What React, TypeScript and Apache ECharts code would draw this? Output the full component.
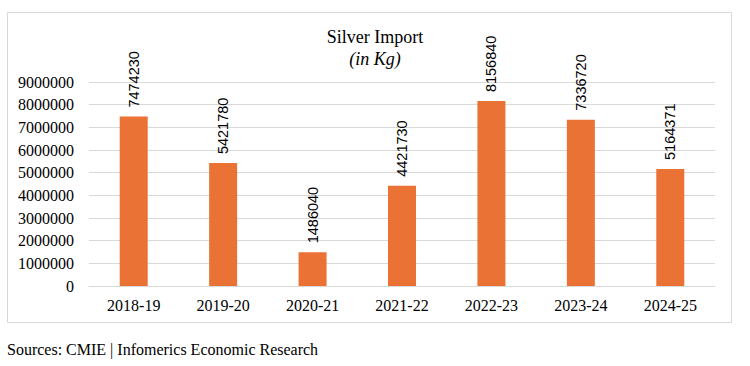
import React, { useEffect, useRef } from "react";
import * as echarts from "echarts";

const categories = ["2018-19", "2019-20", "2020-21", "2021-22", "2022-23", "2023-24", "2024-25"];
const imports = [7474230, 5421780, 1486040, 4421730, 8156840, 7336720, 5164371];
const titleText = "Silver Import";
const subtitleText = "(in Kg)";
const sourceText = "Sources: CMIE | Infomerics Economic Research";

export default function App() {
  const ref = useRef<HTMLDivElement>(null);
  useEffect(() => {
    if (!ref.current) return;
    const chart = echarts.init(ref.current, null, { renderer: "svg" });
    const serif = "'Liberation Serif', 'Times New Roman', serif";
    chart.setOption({
      animation: false,
      backgroundColor: "#ffffff",
      title: {
        text: titleText,
        subtext: subtitleText,
        left: 370,
        textAlign: "center",
        top: 23,
        itemGap: 4,
        textStyle: { fontFamily: serif, fontSize: 18, fontWeight: "normal", color: "#000" },
        subtextStyle: { fontFamily: serif, fontSize: 18, fontStyle: "italic", color: "#000" },
      },
      grid: { left: 89, right: 35, top: 82, bottom: 80 },
      xAxis: {
        type: "category",
        data: categories,
        axisLine: { show: true, lineStyle: { color: "#d9d9d9" } },
        axisTick: { show: false },
        axisLabel: { fontFamily: serif, fontSize: 16, color: "#000", margin: 11 },
      },
      yAxis: {
        type: "value",
        min: 0,
        max: 9000000,
        interval: 1000000,
        axisLine: { show: false },
        axisTick: { show: false },
        splitLine: { lineStyle: { color: "#d9d9d9", width: 1 } },
        axisLabel: {
          fontFamily: serif,
          fontSize: 16,
          color: "#000",
          margin: 15,
          formatter: (v: number) => String(v),
        },
      },
      graphic: [
        {
          type: "rect",
          shape: { x: 7.5, y: 12.5, width: 724, height: 310 },
          style: { fill: "none", stroke: "#d9d9d9", lineWidth: 1 },
          silent: true,
        },
        {
          type: "text",
          left: 7,
          top: 341,
          style: { text: sourceText, font: "16px " + serif, fill: "#000" },
        },
      ],
      series: [
        {
          type: "bar",
          data: imports,
          barWidth: 28,
          itemStyle: { color: "#EA7234" },
          label: {
            show: true,
            position: "top",
            rotate: 90,
            align: "left",
            verticalAlign: "middle",
            distance: 9,
            fontFamily: "'Liberation Sans', Arial, sans-serif",
            fontSize: 14.5,
            color: "#000",
          },
        },
      ],
    });
    return () => chart.dispose();
  }, []);
  return (
    <div
      ref={ref}
      style={{ position: "fixed", left: 0, top: 0, width: 750, height: 366 }}
    />
  );
}
